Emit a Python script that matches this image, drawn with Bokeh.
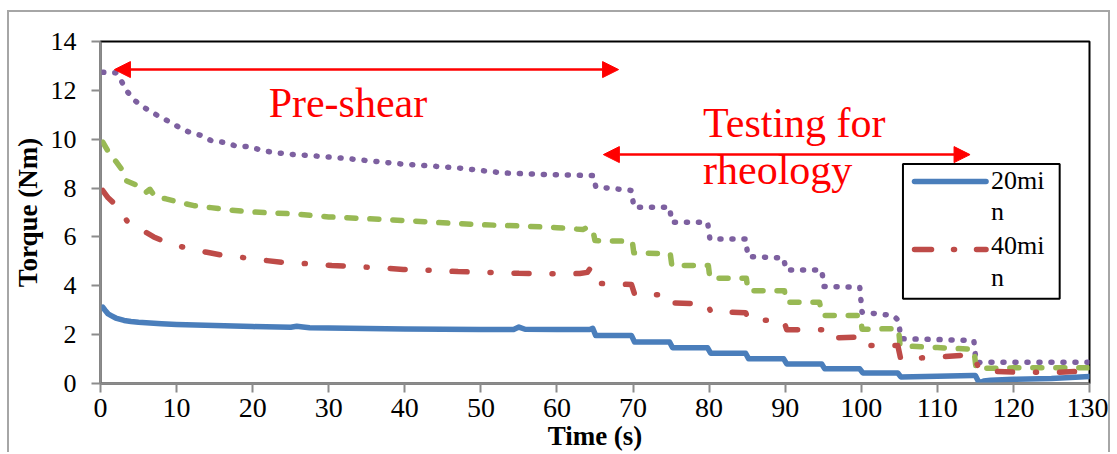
from bokeh.plotting import figure
from bokeh.models import Range1d, FixedTicker, Arrow, NormalHead
from bokeh.core.properties import value
from bokeh.embed import file_html
from bokeh.resources import INLINE

# ---- data ----
t_20 = [0.3, 0.6, 1.0, 1.4, 2.0, 3.1, 4.0, 5.0, 6.5, 8.0, 10.0, 15.0, 20.0, 25.0, 25.8, 26.6, 27.5,
        30.0, 35.0, 40.0, 45.0, 50.0, 54.3, 55.0, 55.8, 60.0, 64.3, 64.7, 65.1, 69.8, 70.2, 74.8, 75.2,
        79.8, 80.2, 84.8, 85.2, 89.8, 90.2, 94.8, 95.2, 99.8, 100.2, 104.8, 105.2, 110.0, 114.6, 115.0,
        115.5, 116.1, 117.0, 120.0, 125.0, 130.0]
v_20 = [3.12, 3.0, 2.85, 2.78, 2.68, 2.58, 2.54, 2.51, 2.48, 2.45, 2.42, 2.37, 2.33, 2.3, 2.34, 2.31, 2.28,
        2.27, 2.25, 2.23, 2.22, 2.21, 2.21, 2.31, 2.22, 2.21, 2.21, 2.26, 1.96, 1.96, 1.7, 1.7, 1.46,
        1.46, 1.24, 1.24, 1.01, 1.01, 0.8, 0.8, 0.6, 0.6, 0.43, 0.43, 0.27, 0.3, 0.33, 0.33,
        0.02, 0.1, 0.13, 0.17, 0.2, 0.29]

t_40 = [0.3, 1.0, 1.8, 2.5, 3.5, 5.0, 6.0, 7.0, 8.1, 10.0, 11.0, 13.0, 14.0, 16.2, 19.2, 21.9, 24.5,
        27.5, 30.4, 32.9, 35.7, 39.8, 44.0, 47.0, 49.6, 52.5, 55.0, 57.5, 60.0, 63.0, 64.0, 64.4, 64.8,
        65.2, 69.8, 70.2, 74.8, 75.2, 79.8, 80.2, 84.8, 85.2, 89.8, 90.2, 94.8, 95.2, 99.8, 100.2, 104.8,
        105.2, 108.0, 110.0, 113.3, 114.8, 115.2, 115.6, 117.4, 120.5, 125.8, 128.8, 130.0]
v_40 = [7.9, 7.6, 7.37, 7.1, 6.65, 6.3, 6.18, 6.0, 5.85, 5.65, 5.57, 5.43, 5.37, 5.24, 5.14, 5.03, 4.94,
        4.9, 4.83, 4.8, 4.75, 4.67, 4.63, 4.58, 4.56, 4.54, 4.51, 4.5, 4.49, 4.5, 4.55, 4.72, 4.5,
        4.1, 4.05, 3.66, 3.62, 3.3, 3.25, 2.95, 2.9, 2.6, 2.58, 2.2, 2.2, 1.86, 1.9, 1.56, 1.56,
        0.98, 1.05, 1.08, 1.15, 1.15, 0.8, 0.55, 0.5, 0.46, 0.46, 0.5, 0.53]

t_60 = [0.3, 1.0, 2.0, 2.9, 3.4, 4.9, 6.0, 6.5, 7.2, 8.6, 10.3, 12.3, 14.5, 17.0, 20.0, 25.0, 30.0,
        37.0, 40.0, 45.0, 50.0, 55.0, 60.0, 63.4, 64.0, 64.7, 65.0, 69.9, 70.1, 74.9, 75.1, 79.9, 80.1,
        84.9, 85.1, 89.9, 90.1, 94.5, 94.9, 99.9, 100.1, 104.9, 105.1, 110.0, 114.8, 115.1, 116.0, 120.0,
        125.0, 130.0]
v_60 = [9.88, 9.5, 9.1, 8.72, 8.3, 8.1, 7.83, 7.95, 7.63, 7.56, 7.42, 7.28, 7.2, 7.1, 7.02, 6.95, 6.82,
        6.72, 6.67, 6.58, 6.5, 6.45, 6.38, 6.3, 6.4, 6.3, 5.85, 5.82, 5.35, 5.3, 4.83, 4.83, 4.31,
        4.31, 3.8, 3.8, 3.33, 3.33, 2.78, 2.78, 2.22, 2.25, 1.55, 1.47, 1.4, 0.6, 0.62, 0.64,
        0.64, 0.64]

t_80 = [0.3, 2.0, 2.7, 3.6, 4.6, 5.9, 7.5, 8.6, 9.9, 11.5, 13.3, 14.5, 16.4, 17.8, 19.5, 21.5, 23.0,
        25.0, 27.6, 32.0, 39.4, 46.8, 52.9, 59.0, 64.8, 65.1, 69.8, 70.1, 74.8, 75.1, 79.8, 80.1, 84.8,
        85.1, 89.8, 90.1, 94.8, 95.1, 99.8, 100.1, 104.2, 104.9, 105.2, 110.0, 114.8, 115.1, 116.0,
        120.0, 125.0, 130.0]
v_80 = [12.74, 12.72, 12.4, 11.92, 11.56, 11.27, 10.97, 10.79, 10.56, 10.31, 10.15, 9.95, 9.86, 9.72, 9.7,
        9.52, 9.45, 9.38, 9.33, 9.22, 8.99, 8.83, 8.62, 8.55, 8.51, 8.05, 7.9, 7.22, 7.22, 6.6, 6.6,
        5.92, 5.92, 5.2, 5.14, 4.65, 4.65, 3.97, 3.94, 2.92, 2.78, 2.58, 1.83, 1.8, 1.76, 0.85, 0.87,
        0.87, 0.87, 0.87]

legend_labels = ["20mi\nn", "40mi\nn"]
x_ticks = [0, 10, 20, 30, 40, 50, 60, 70, 80, 90, 100, 110, 120, 130]
y_ticks = [0, 2, 4, 6, 8, 10, 12, 14]

FONT = "Liberation Serif"
BLUE, RED, GREEN, PURPLE = "#4A7EBB", "#BE4B48", "#98B954", "#7D60A0"

p = figure(width=1103, height=442, x_range=Range1d(0, 130), y_range=Range1d(0, 14),
           output_backend="svg", toolbar_location=None,
           min_border_left=87, min_border_right=23, min_border_top=29, min_border_bottom=71)
p.styles = {"margin-left": "7px", "margin-top": "10px",
            "border-left": "2px solid #A6A6A6", "border-top": "2px solid #A6A6A6",
            "border-right": "2px solid #A6A6A6"}
p.grid.visible = False
p.outline_line_color = "black"
p.outline_line_width = 2

for ax in (p.xaxis[0], p.yaxis[0]):
    ax.axis_line_color = "#8C8C8C"
    ax.axis_line_width = 2
    ax.major_tick_line_color = "#8C8C8C"
    ax.major_tick_line_width = 2
    ax.major_tick_in = 0
    ax.major_tick_out = 9
    ax.minor_tick_line_color = None
    ax.major_label_text_font = FONT
    ax.major_label_text_color = "black"
    ax.axis_label_text_font = FONT
    ax.axis_label_text_font_style = "bold"
    ax.axis_label_text_color = "black"
    ax.axis_label_text_font_size = "27px"

p.xaxis.ticker = FixedTicker(ticks=x_ticks)
p.yaxis.ticker = FixedTicker(ticks=y_ticks)
p.xaxis.major_label_text_font_size = "28px"
p.yaxis.major_label_text_font_size = "26px"
p.xaxis.major_label_standoff = 6
p.yaxis.major_label_standoff = 15
p.xaxis.axis_label = "Time (s)"
p.xaxis.axis_label_standoff = 1
p.yaxis.axis_label = "Torque (Nm)"
p.yaxis.axis_label_standoff = 5

common = dict(line_join="round", line_cap="round")
p.line(t_80, v_80, line_color=PURPLE, line_width=5.5, line_dash="1 11", **common)
p.line(t_60, v_60, line_color=GREEN, line_width=5.5, line_dash="9 14", **common)
p.line(t_40, v_40, line_color=RED, line_width=5.5, line_dash="15 23 1 23", **common)
p.line(t_20, v_20, line_color=BLUE, line_width=5.5, **common)

# annotations
for xs, xe, y in [(1.83, 68.1, 12.85), (66.1, 114.3, 9.37)]:
    p.add_layout(Arrow(start=NormalHead(size=16, fill_color="red", line_color="red"),
                       end=NormalHead(size=16, fill_color="red", line_color="red"),
                       x_start=xs, y_start=y, x_end=xe, y_end=y,
                       line_color="red", line_width=2.5))
p.text(x=[22.1, 79.2, 79.2], y=[11.5, 10.68, 8.72], text=["Pre-shear", "Testing for", "rheology"],
       text_font=value(FONT), text_font_size="42px", text_color="red",
       text_baseline="alphabetic", text_align="left")

# legend (only two entries visible in the reference)
p.quad(left=[105.48], right=[126.08], top=[8.99], bottom=[3.47],
       fill_color="white", line_color="black", line_width=2)
p.line([107.0, 116.4], [8.27, 8.27], line_color=BLUE, line_width=5.5, **common)
p.line([107.0, 116.4], [5.49, 5.49], line_color=RED, line_width=5.5, line_dash="17 22 1 22", **common)
leg_text = []
leg_y = []
for lab, yb in zip(legend_labels, [(8.33, 7.06), (5.63, 4.34)]):
    parts = lab.split("\n")
    leg_text += parts
    leg_y += list(yb)
p.text(x=[117.05] * 4, y=leg_y, text=leg_text, text_font=value(FONT), text_font_size="26px",
       text_color="black", text_baseline="alphabetic", text_align="left")

open("out.html", "w").write(file_html(p, INLINE))
